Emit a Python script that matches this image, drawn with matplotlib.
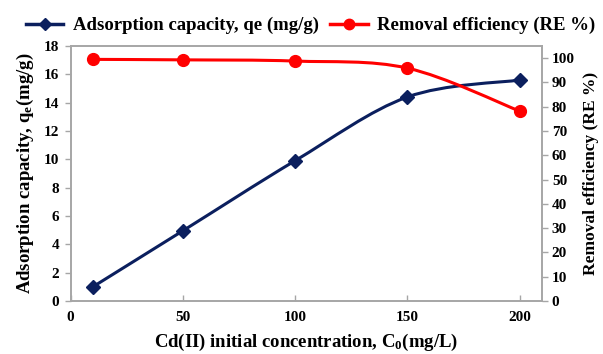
import numpy as np
import matplotlib
matplotlib.use("Agg")
from matplotlib import pyplot as plt
from matplotlib.path import Path
from matplotlib.patches import PathPatch
from matplotlib.lines import Line2D

# data
conc = [10, 50, 100, 150, 200]
qe = [1.0, 4.95, 9.9, 14.4, 15.6]
removal = [99.5, 99.3, 98.8, 95.9, 78.2]

plt.rcParams['font.family'] = ['Liberation Serif', 'DejaVu Serif']
plt.rcParams['font.weight'] = 'bold'
plt.rcParams['mathtext.fontset'] = 'custom'
plt.rcParams['mathtext.rm'] = 'Liberation Serif:bold'
plt.rcParams['mathtext.it'] = 'Liberation Serif:bold'
plt.rcParams['mathtext.bf'] = 'Liberation Serif:bold'

NAVY = '#0b1f5e'
RED = '#ff0000'
GREY = '#a6a6a6'


def smooth_path(x, y):
    # Catmull-Rom style bezier through the points (like a spreadsheet smoothed line)
    x = np.asarray(x, float)
    y = np.asarray(y, float)
    n = len(x)
    verts = [(x[0], y[0])]
    codes = [Path.MOVETO]
    for i in range(n - 1):
        p0 = (x[max(i - 1, 0)], y[max(i - 1, 0)])
        p1 = (x[i], y[i])
        p2 = (x[i + 1], y[i + 1])
        p3 = (x[min(i + 2, n - 1)], y[min(i + 2, n - 1)])
        c1 = (p1[0] + (p2[0] - p0[0]) / 6, p1[1] + (p2[1] - p0[1]) / 6)
        c2 = (p2[0] - (p3[0] - p1[0]) / 6, p2[1] - (p3[1] - p1[1]) / 6)
        verts += [c1, c2, p2]
        codes += [Path.CURVE4] * 3
    return Path(verts, codes)


fig = plt.figure(figsize=(6.03, 3.54), dpi=100)
ax = fig.add_axes([0.117, 0.150, 0.782, 0.720])
ax2 = ax.twinx()

ax.add_patch(PathPatch(smooth_path(conc, qe), fill=False, edgecolor=NAVY, lw=2.2))
ax.plot(conc, qe, ls='none', marker='D', ms=7.5, color=NAVY)
ax2.add_patch(PathPatch(smooth_path(conc, removal), fill=False, edgecolor=RED, lw=2.2))
ax2.plot(conc, removal, ls='none', marker='o', ms=8.5, color=RED)

ax.set_xlim(0, 210)
ax.set_ylim(0, 18)
ax2.set_ylim(0, 105)
ax.set_xticks([0, 50, 100, 150, 200])
ax.set_yticks(np.arange(0, 19, 2))
ax2.set_yticks(np.arange(0, 101, 10))

for a in (ax, ax2):
    for s in a.spines.values():
        s.set_color(GREY)
        s.set_linewidth(1.2)
    a.tick_params(labelsize=11, color=GREY, length=4, width=1)
ax.tick_params(axis='x', direction='in', pad=7)
ax.tick_params(axis='y', direction='out', pad=4)
ax2.tick_params(axis='y', direction='out', pad=3)

ax.set_xlabel('Cd(II) initial concentration, C$_{0}$(mg/L)', fontsize=13.5, fontweight='bold', labelpad=6)
ax.set_ylabel('Adsorption capacity, q$_{e}$(mg/g)', fontsize=13.5, fontweight='bold', labelpad=6)
ax2.set_ylabel('Removal efficiency (RE %)', fontsize=12.5, fontweight='bold', labelpad=6)

handles = [Line2D([], [], color=NAVY, lw=2.5, marker='D', ms=6.5),
           Line2D([], [], color=RED, lw=2.5, marker='o', ms=7.5)]
fig.legend(handles, ['Adsorption capacity, qe (mg/g)', 'Removal efficiency (RE %)'],
           loc='upper center', bbox_to_anchor=(0.515, 1.0), ncol=2, frameon=False,
           prop={'size': 13.5, 'weight': 'bold'}, handlelength=2.0, columnspacing=0.6,
           handletextpad=0.5)

fig.savefig('out.png', dpi=100)
